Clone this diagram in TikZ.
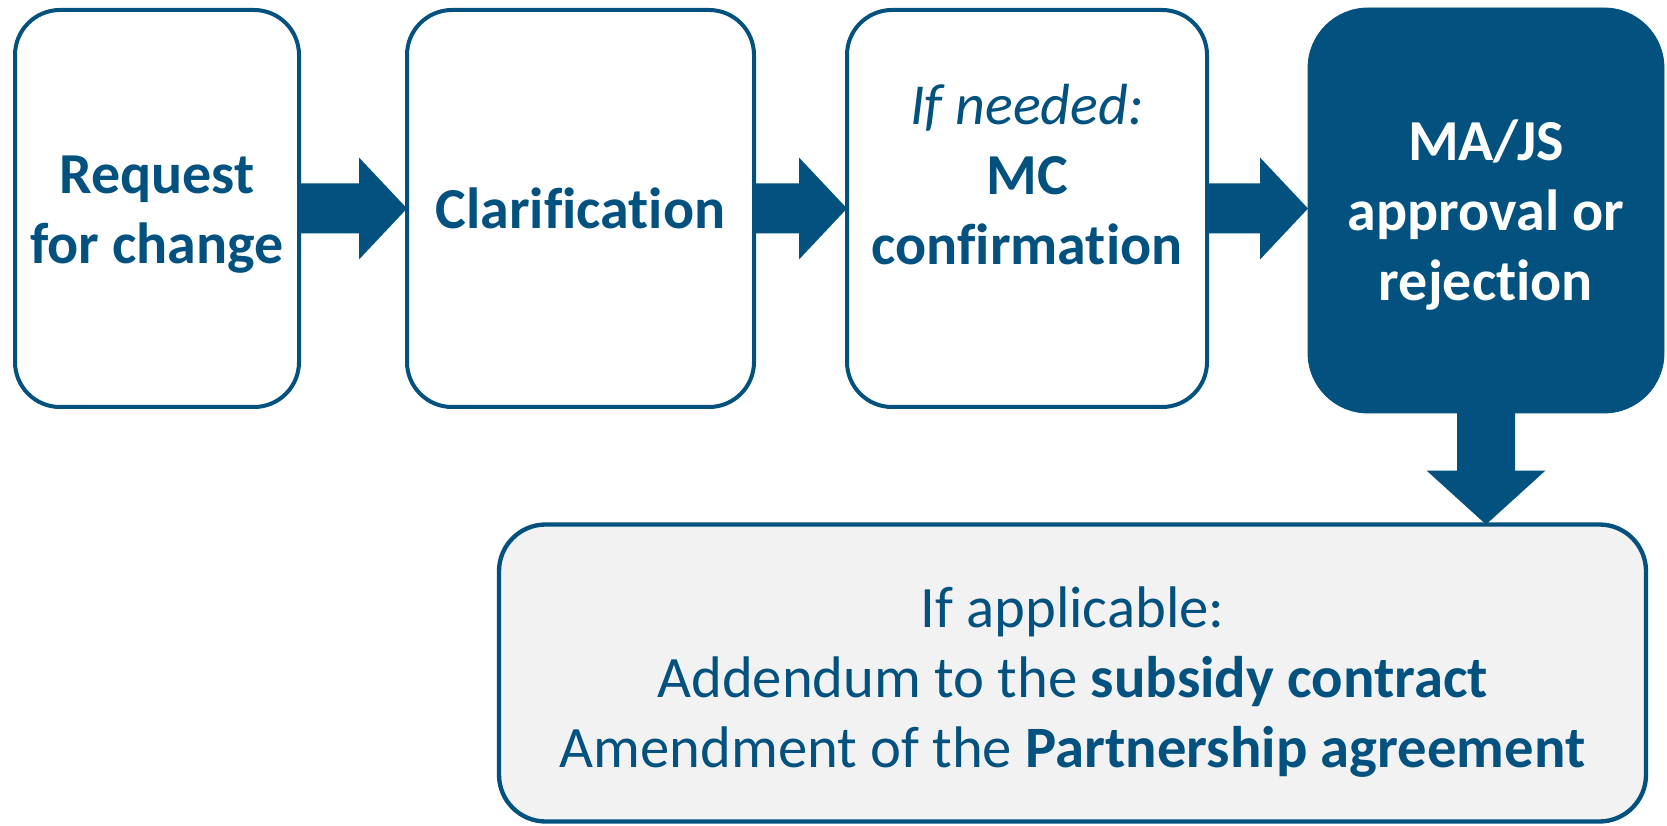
\documentclass[tikz,border=0pt]{standalone}
\usepackage{fontspec}
\setmainfont{Carlito}[Ligatures=NoCommon]
\usetikzlibrary{calc}
\definecolor{mainblue}{RGB}{2,81,126}
\definecolor{lightgray}{RGB}{242,242,242}
\newcommand\boxtext[2]{\raisebox{#1}[0pt][0pt]{\begin{tabular}[t]{@{}c@{}}#2\end{tabular}}}
\begin{document}
\begin{tikzpicture}[x=0.6pt,y=-0.6pt,
  every node/.style={inner sep=0pt, outer sep=0pt},
  stepbox/.style={draw=mainblue, line width=2.4pt, fill=white, rounded corners=27pt,
    minimum height=238.2pt, text=mainblue,
    font=\fontsize{34.8pt}{42pt}\selectfont\bfseries},
  darkbox/.style={draw=mainblue, line width=0.5pt, fill=mainblue, rounded corners=36pt,
    minimum width=213.6pt, minimum height=243pt, text=white,
    font=\fontsize{34.8pt}{42pt}\selectfont\bfseries},
  resultbox/.style={draw=mainblue, line width=2.6pt, fill=lightgray, rounded corners=28pt,
    minimum width=688.2pt, minimum height=178.2pt, text=mainblue,
    font=\fontsize{35.2pt}{42pt}\selectfont},
  arrowfill/.style={fill=mainblue}]
\useasboundingbox (0,0) rectangle (1667,826);
\fill[white] (0,0) rectangle (1667,826);

\node[stepbox, minimum width=170.4pt] (b1) at (157,208.5)
  {\boxtext{8.7pt}{Request\\for change}};
\node[stepbox, minimum width=208.2pt] (b2) at (580.5,208.5)
  {\boxtext{-12.3pt}{Clarification}};
\node[stepbox, minimum width=216pt] (b3) at (1027,208.5)
  {\boxtext{50.1pt}{{\normalfont\itshape If needed:}\\MC\\confirmation}};
\node[darkbox] (b4) at (1486,210.5)
  {\boxtext{29.7pt}{MA/JS\\approval or\\rejection}};
\node[resultbox] (b5) at (1072.5,673)
  {\boxtext{27.6pt}{If applicable:\\Addendum to the \textbf{subsidy contract}\\Amendment of the \textbf{Partnership agreement}}};

\fill[arrowfill] let \p1=(b1.east), \p2=(b2.west) in
  (\x1,\y1+15pt) -- (\x2-28.8pt,\y1+15pt) -- (\x2-28.8pt,\y1+30.6pt) -- (\x2,\y1)
  -- (\x2-28.8pt,\y1-30.6pt) -- (\x2-28.8pt,\y1-15pt) -- (\x1,\y1-15pt) -- cycle;
\fill[arrowfill] let \p1=(b2.east), \p2=(b3.west) in
  (\x1,\y1+15pt) -- (\x2-28.8pt,\y1+15pt) -- (\x2-28.8pt,\y1+30.6pt) -- (\x2,\y1)
  -- (\x2-28.8pt,\y1-30.6pt) -- (\x2-28.8pt,\y1-15pt) -- (\x1,\y1-15pt) -- cycle;
\fill[arrowfill] let \p1=(b3.east), \p2=(b4.west) in
  (\x1,\y1+15pt) -- (\x2-28.8pt,\y1+15pt) -- (\x2-28.8pt,\y1+30.6pt) -- (\x2,\y1)
  -- (\x2-28.8pt,\y1-30.6pt) -- (\x2-28.8pt,\y1-15pt) -- (\x1,\y1-15pt) -- cycle;
\fill[arrowfill] let \p1=(b4.south), \p2=(b5.north) in
  (\x1-17.4pt,\y1) -- (\x1-17.4pt,\y2+32.4pt) -- (\x1-35.7pt,\y2+32.4pt) -- (\x1,\y2)
  -- (\x1+35.7pt,\y2+32.4pt) -- (\x1+17.4pt,\y2+32.4pt) -- (\x1+17.4pt,\y1) -- cycle;
\end{tikzpicture}
\end{document}
